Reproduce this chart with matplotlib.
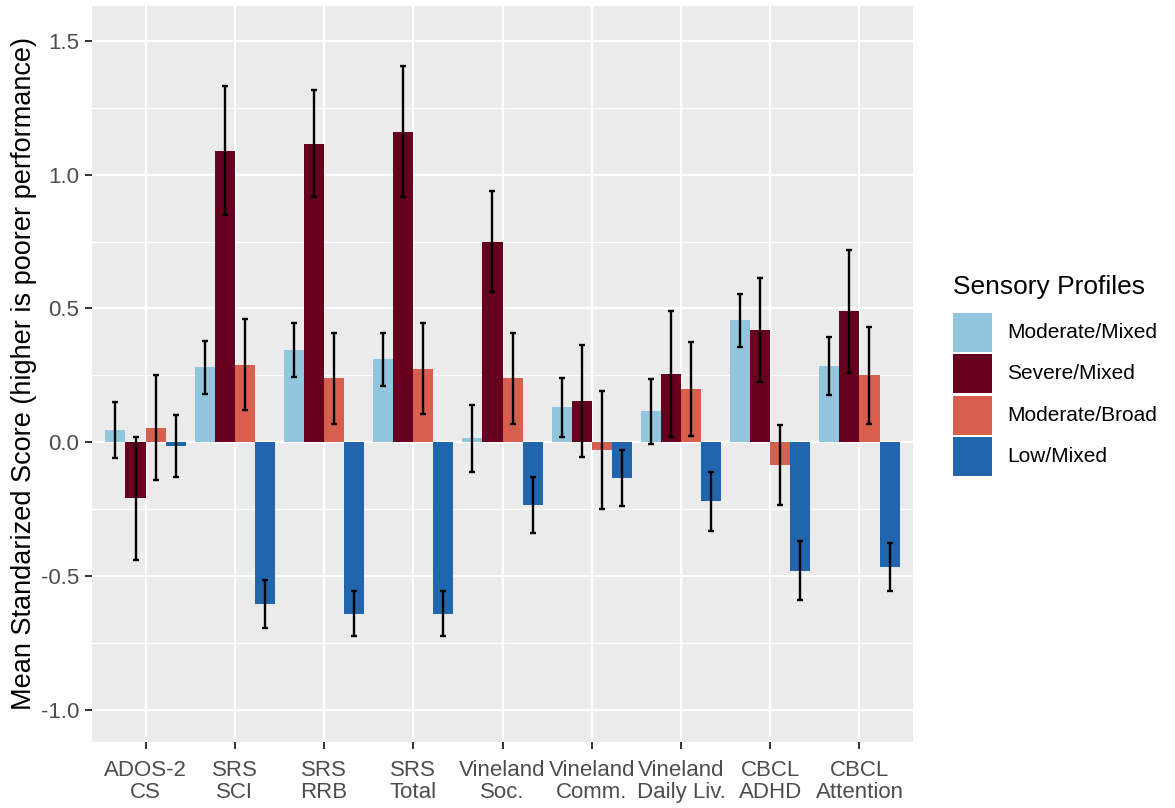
import numpy as np
import matplotlib
matplotlib.use("Agg")
import matplotlib.pyplot as plt
from matplotlib.patches import Rectangle

plt.rcParams['font.family'] = ['Liberation Sans', 'DejaVu Sans']

# measures on the x axis
categories = ["ADOS-2\nCS", "SRS\nSCI", "SRS\nRRB", "SRS\nTotal", "Vineland\nSoc.",
              "Vineland\nComm.", "Vineland\nDaily Liv.", "CBCL\nADHD", "CBCL\nAttention"]

profiles = ["Moderate/Mixed", "Severe/Mixed", "Moderate/Broad", "Low/Mixed"]
colors = ["#92c5de", "#67001f", "#d6604d", "#2166ac"]

# mean standardized scores per profile
moderate_mixed = [0.045, 0.28, 0.345, 0.31, 0.015, 0.13, 0.115, 0.455, 0.285]
severe_mixed = [-0.21, 1.09, 1.115, 1.16, 0.75, 0.155, 0.255, 0.42, 0.49]
moderate_broad = [0.055, 0.29, 0.24, 0.275, 0.24, -0.03, 0.20, -0.085, 0.25]
low_mixed = [-0.015, -0.605, -0.64, -0.64, -0.235, -0.135, -0.22, -0.48, -0.465]

# half-width of the error bars
moderate_mixed_se = [0.105, 0.10, 0.10, 0.10, 0.125, 0.11, 0.12, 0.10, 0.11]
severe_mixed_se = [0.23, 0.24, 0.20, 0.245, 0.19, 0.21, 0.235, 0.195, 0.23]
moderate_broad_se = [0.195, 0.17, 0.17, 0.17, 0.17, 0.22, 0.175, 0.15, 0.18]
low_mixed_se = [0.115, 0.09, 0.085, 0.085, 0.105, 0.105, 0.11, 0.11, 0.09]

means = [moderate_mixed, severe_mixed, moderate_broad, low_mixed]
errs = [moderate_mixed_se, severe_mixed_se, moderate_broad_se, low_mixed_se]

W, H = 1175, 808
fig = plt.figure(figsize=(W / 100, H / 100), dpi=100)
ax = fig.add_axes([92 / W, 66 / H, (913 - 92) / W, (742 - 6) / H])
ax.set_facecolor("#ebebeb")

x = np.arange(1, len(categories) + 1)
width = 0.9 / 4
for i in range(4):
    pos = x + (i - 1.5) * width
    ax.bar(pos, means[i], width=width, color=colors[i], zorder=2)
    ax.errorbar(pos, means[i], yerr=errs[i], fmt="none", ecolor="black",
                elinewidth=1.7, capsize=2.2, capthick=1.7, zorder=3)

ax.set_xlim(0.4, len(categories) + 0.6)
ax.set_ylim(-1.12, 1.63)
ax.set_xticks(x)
ax.set_xticklabels(categories, fontsize=16, color="#4d4d4d", linespacing=1.05)
ax.set_yticks([-1.0, -0.5, 0.0, 0.5, 1.0, 1.5])
ax.set_yticklabels(["-1.0", "-0.5", "0.0", "0.5", "1.0", "1.5"], fontsize=16, color="#4d4d4d")
ax.set_yticks([-0.75, -0.25, 0.25, 0.75, 1.25], minor=True)
ax.tick_params(axis="both", which="major", length=5, width=1.4, color="#333333")
ax.tick_params(axis="x", which="major", pad=8)
ax.tick_params(axis="y", which="major", pad=4)
ax.tick_params(axis="y", which="minor", length=0)
ax.grid(which="major", color="white", linewidth=1.6, zorder=0)
ax.grid(which="minor", axis="y", color="white", linewidth=0.8, zorder=0)
ax.set_axisbelow(True)
for s in ax.spines.values():
    s.set_visible(False)

ax.set_ylabel("Mean Standarized Score (higher is poorer performance)", fontsize=19.5,
              color="black", labelpad=3)

# legend drawn by hand to match the ggplot key layout
fig.text(953 / W, 1 - 287 / H, "Sensory Profiles", fontsize=19, va="center", ha="left")
key_tops = [313, 354, 396, 437]
for c, lab, top in zip(colors, profiles, key_tops):
    fig.patches.append(Rectangle((953 / W, 1 - (top + 39) / H), 39 / W, 39 / H,
                                 transform=fig.transFigure, facecolor=c, edgecolor="none"))
    fig.text(1007 / W, 1 - (top + 19.5) / H, lab, fontsize=15, va="center", ha="left")

fig.savefig("out.png", dpi=100)
